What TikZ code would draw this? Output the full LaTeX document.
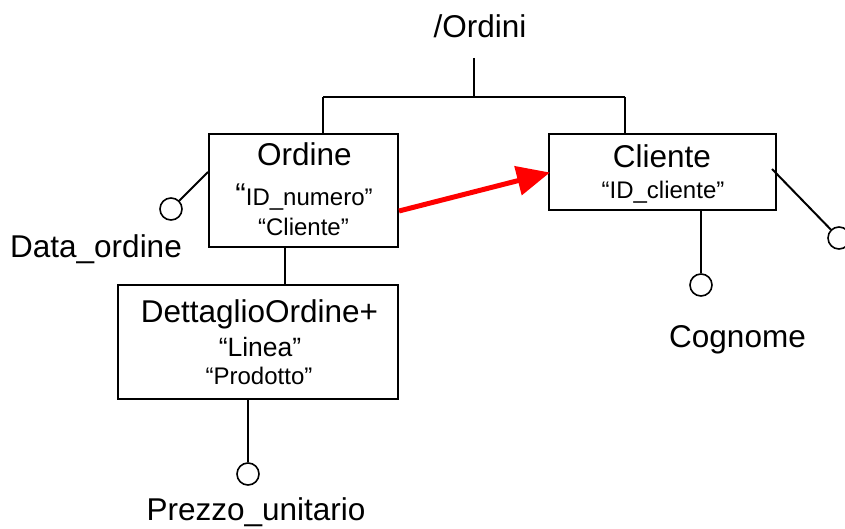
\documentclass[tikz,border=0pt]{standalone}
\usepackage{fontspec}
\setmainfont{Liberation Sans}
\usetikzlibrary{arrows.meta}
\newcommand{\bigtxt}{\fontsize{31.5}{36}\selectfont}
\newcommand{\subtxt}{\fontsize{24}{28}\selectfont}
\tikzset{
  x=1pt, y=-1pt,
  entity/.style={draw, line width=2pt, rectangle, inner sep=0pt},
  attr/.style={draw, circle, line width=1.6pt, minimum size=22pt, inner sep=0pt},
  link/.style={line width=2pt},
  big/.style={anchor=base, inner sep=0pt, font=\bigtxt},
  small/.style={anchor=base, inner sep=0pt, font=\subtxt},
  ref/.style={draw=red, line width=5pt, -{Triangle[length=33pt, width=29pt]}, shorten >=-2pt},
}
\begin{document}
\begin{tikzpicture}
\useasboundingbox (0,0) rectangle (845,529);

% root element and its branch
\node[big] (root) at (480,38) {/Ordini};
\coordinate (rootfoot) at (474,58);
\coordinate (hub) at (474,97);
\coordinate (hubL) at (323,97);
\coordinate (hubR) at (625,97);

% entity boxes
\node[entity, minimum width=189pt, minimum height=113pt] (ordine) at (303.5,190.5) {};
\node[entity, minimum width=227pt, minimum height=76pt] (cliente) at (662.5,172) {};
\node[entity, minimum width=280pt, minimum height=114pt] (dettaglio) at (258,342) {};

% box contents
\node[big] (ordT) at (304.5,166) {Ordine};
\node[small] (ordK1) at (304,206) {{\bigtxt “}ID\_numero”};
\node[small] (ordK2) at (303.5,236) {“Cliente”};
\node[big] (cliT) at (662,168) {Cliente};
\node[small] (cliK) at (663,199) {“ID\_cliente”};
\node[big] (detT) at (259.5,322) {DettaglioOrdine+};
\node[small, font=\fontsize{26.5}{30}\selectfont] (detK1) at (260,356) {“Linea”};
\node[small] (detK2) at (259,384) {“Prodotto”};

% attributes
\node[attr] (aData) at (171,209) {};
\node[big] (lData) at (96,257) {Data\_ordine};
\node[attr] (aCogn) at (701,285) {};
\node[big] (lCogn) at (737.5,347) {Cognome};
\node[attr] (aExtra) at (839,238) {};
\node[attr] (aPrezzo) at (248,474) {};
\node[big] (lPrezzo) at (256,520) {Prezzo\_unitario};

% tree connectors
\draw[link] (rootfoot) -- (hub);
\draw[link] (hubL) -- (hubR);
\draw[link] (hubL) -- (hubL |- ordine.north);
\draw[link] (hubR) -- (hubR |- cliente.north);
\draw[link] (ordine.south -| 285,0) -- (dettaglio.north -| 285,0);

% attribute connectors
\draw[link] (aData) -- (ordine.west |- 0,172);
\draw[link] (cliente.south -| aCogn) -- (aCogn);
\draw[link] (772,169) -- (aExtra);
\draw[link] (dettaglio.south -| aPrezzo) -- (aPrezzo);

% key reference from Ordine to Cliente
\draw[ref] (ordine.east |- 0,211) -- (cliente.west |- 0,173);
\end{tikzpicture}
\end{document}
